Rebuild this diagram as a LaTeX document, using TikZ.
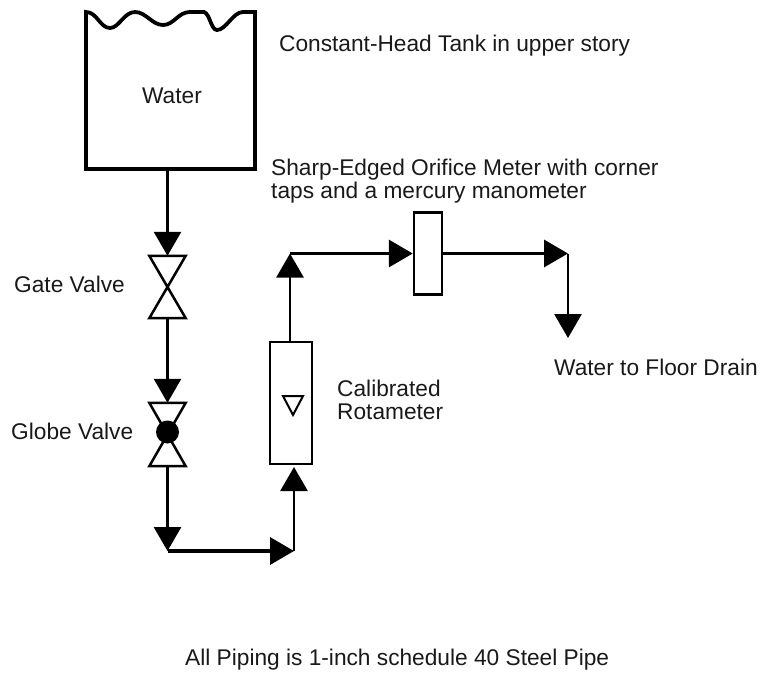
\documentclass[tikz,border=0pt]{standalone}
\usepackage{fontspec}
\setmainfont{Liberation Sans}
\usetikzlibrary{arrows.meta}
\tikzset{
  x=1pt,y=-1pt,
  pipe/.style={draw=black,line width=3.4pt,-{Triangle[length=24pt,width=27pt]}},
  thinpipe/.style={draw=black,line width=2.8pt,-{Triangle[length=24pt,width=27pt]}},
  meter/.style={draw=black,fill=white,line width=2.5pt,inner sep=0pt,rectangle},
  frame/.style={inner sep=0pt,rectangle,minimum width=36pt},
  bowtie/.style={draw=black,fill=white,line width=2.5pt,line join=miter},
  label/.style={font=\fontsize{22.7}{23}\selectfont,text=black!90,inner sep=0pt,anchor=base west,align=left},
}
\begin{document}
\begin{tikzpicture}
\useasboundingbox (0,0) rectangle (760,673);
% Tank
\draw[draw=black,line width=3.8pt,line join=miter]
  (86,12) .. controls (97,12) and (100,28) .. (110,28)
  .. controls (119,28) and (124,12) .. (135,12)
  .. controls (146,12) and (152,25) .. (163,25)
  .. controls (174,25) and (178,12) .. (190,12)
  -- (204,12) .. controls (210,14) and (211,30) .. (217,30)
  .. controls (226,30) and (233,12) .. (243,12)
  -- (255,12) -- (255,169) -- (86,169) -- cycle;
\node[inner sep=0pt,rectangle,minimum width=169pt,minimum height=157pt] (tank) at (170.5,90.5) {};
\node[label,anchor=base] (water) at (172,103) {Water};
% Valves
\node[frame,minimum height=62pt] (gate) at (167.5,287) {};
\draw[bowtie] (gate.north west) -- (gate.north east) -- (gate.south west) -- (gate.south east) -- (gate.north west) -- cycle;
\node[frame,minimum height=63pt] (globe) at (167.5,434.5) {};
\draw[bowtie] (globe.north west) -- (globe.north east) -- (globe.south west) -- (globe.south east) -- (globe.north west) -- cycle;
\node[circle,fill=black,draw=none,minimum size=23pt,inner sep=0pt] (ball) at (167.5,432) {};
% Meters
\node[meter,minimum width=42pt,minimum height=122pt] (rota) at (291,403) {};
\draw[draw=black,fill=white,line width=2pt] (283,396) -- (303,396) -- (293,415) -- cycle;
\node[meter,minimum width=28pt,minimum height=82pt] (orifice) at (428,253.5) {};
% Junctions
\coordinate (c1) at (167.5,551);
\coordinate (c2) at (294,551);
\coordinate (c2top) at (294,467);
\coordinate (c3) at (290,253.5);
\coordinate (c4) at (568,253.5);
\coordinate (drain) at (568,338);
% Connectors
\draw[thinpipe] (tank.south -| gate) -- (gate.north);
\draw[thinpipe] (gate.south) -- (globe.north);
\draw[thinpipe] (globe.south) -- (c1);
\draw[pipe] (c1) -- (c2);
\draw[thinpipe] (c2) -- (c2top);
\draw[thinpipe] (rota.north -| c3) -- (c3);
\draw[pipe] (c3) -- (orifice.west);
\draw[pipe] (orifice.east) -- (c4);
\draw[thinpipe] (c4) -- (drain);
% Labels
\node[label] (l1) at (279,51) {Constant-Head Tank in upper story};
\node[label,anchor=north west] (l2) at (271,159) {Sharp-Edged Orifice Meter with corner\\taps and a mercury manometer};
\node[label] (l3) at (14,292) {Gate Valve};
\node[label] (l4) at (11,439) {Globe Valve};
\node[label,anchor=north west] (l5) at (337,380) {Calibrated\\Rotameter};
\node[label] (l6) at (554,375) {Water to Floor Drain};
\node[label] (l7) at (185,665) {All Piping is 1-inch schedule 40 Steel Pipe};
\end{tikzpicture}
\end{document}
